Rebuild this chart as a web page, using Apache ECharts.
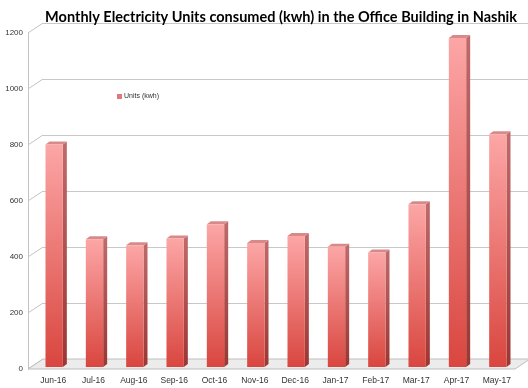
<!DOCTYPE html>
<html><head><meta charset="utf-8">
<script src="https://cdn.jsdelivr.net/npm/echarts@6/dist/echarts.min.js"></script>
<style>html,body{margin:0;padding:0;background:#fff}#c{width:528px;height:388px}</style>
</head><body><div id="c"></div>
<script>
var months = ['Jun-16','Jul-16','Aug-16','Sep-16','Oct-16','Nov-16','Dec-16','Jan-17','Feb-17','Mar-17','Apr-17','May-17'];
var units = [802, 463, 442, 466, 517, 450, 475, 437, 416, 588, 1182, 838];
var yTicks = [0, 200, 400, 600, 800, 1000, 1200];
var seriesName = 'Units (kwh)';

var DX = 15, DY = 10, AX = 5;
var chart = echarts.init(document.getElementById('c'));

function wallItem(params, api) {
  var cs = params.coordSys;
  var p = api.coord([0, api.value(0)]);
  var x0 = cs.x - AX;
  return {type:'line', shape:{x1:x0, y1:p[1], x2:x0+DX, y2:p[1]-DY},
          style:{stroke:'#c4c4c4', lineWidth:1}, silent:true};
}
function floorItem(params, api) {
  var cs = params.coordSys;
  var y0 = api.coord([0, 0])[1];
  var x0 = cs.x - AX, x1 = cs.x + cs.width - 2;
  return {type:'polygon', shape:{points:[[x0,y0],[x1,y0],[x1+DX,y0-DY],[x0+DX,y0-DY]]},
          style:{fill:'#ececec', stroke:'#bdbdbd', lineWidth:1}, silent:true};
}
function barItem(params, api) {
  var i = api.value(0), v = api.value(1);
  var top = api.coord([i, v]);
  var base = api.coord([i, 0]);
  var band = api.size([1, 0])[0];
  var w = band * 0.43;
  var x = top[0] - w / 2 + 1, yt = top[1], yb = base[1] - 2;
  var d = 4, h = 3;
  return {type:'group', children:[
    {type:'polygon', shape:{points:[[x+w,yt],[x+w+d,yt-h],[x+w+d,yb-h],[x+w,yb]]},
     style:{fill:new echarts.graphic.LinearGradient(0,0,0,1,[{offset:0,color:'#c06a6a'},{offset:1,color:'#9c3632'}])}},
    {type:'polygon', shape:{points:[[x,yt],[x+d,yt-h],[x+w+d,yt-h],[x+w,yt]]},
     style:{fill:'#d88a8a'}},
    {type:'rect', shape:{x:x, y:yt, width:w, height:yb-yt},
     style:{fill:new echarts.graphic.LinearGradient(0,0,0,1,[{offset:0,color:'#fca6a6'},{offset:1,color:'#d9463f'}])}}
  ]};
}

chart.setOption({
  animation:false,
  title:{text:'Monthly Electricity Units consumed (kwh) in the Office Building in Nashik',
    right:6, top:5,
    textStyle:{fontFamily:'Lato', fontWeight:'bold', fontSize:14.5, color:'#000'}},
  legend:{data:[seriesName], left:112, top:88, icon:'rect', itemWidth:5, itemHeight:5, itemGap:2,
    textStyle:{fontFamily:'Liberation Sans', fontSize:7, color:'#333', padding:[0,0,0,-3]}},
  grid:[
    {left:33, right:11, top:33, bottom:19},
    {left:33+DX-AX, right:0, top:33-DY, bottom:19+DY}
  ],
  xAxis:[
    {type:'category', gridIndex:0, data:months,
     axisLine:{show:false}, axisTick:{show:false},
     axisLabel:{fontFamily:'Liberation Sans', fontSize:8.5, color:'#333', margin:7}},
    {type:'category', gridIndex:1, data:months, show:false}
  ],
  yAxis:[
    {type:'value', gridIndex:0, min:0, max:1200, interval:200, offset:AX,
     axisLine:{show:true, lineStyle:{color:'#c4c4c4'}}, axisTick:{show:false},
     splitLine:{show:false},
     axisLabel:{fontFamily:'Liberation Sans', fontSize:8, color:'#333', margin:5,
       formatter:function(v){return String(v);}}},
    {type:'value', gridIndex:1, min:0, max:1200, interval:200,
     axisLine:{show:false}, axisTick:{show:false}, axisLabel:{show:false},
     splitLine:{lineStyle:{color:'#c8c8c8', width:1}}}
  ],
  series:[
    {type:'custom', xAxisIndex:0, yAxisIndex:0, data:yTicks.map(function(t){return [t];}),
     encode:{y:0}, renderItem:wallItem, silent:true, z:1},
    {type:'custom', xAxisIndex:0, yAxisIndex:0, data:[[0]], encode:{y:0}, renderItem:floorItem, silent:true, z:1},
    {type:'custom', name:seriesName, xAxisIndex:0, yAxisIndex:0,
     itemStyle:{color:'#e0777a'},
     data:units.map(function(v,i){return [i,v];}), encode:{x:0,y:1}, renderItem:barItem, z:3}
  ]
});
</script></body></html>
